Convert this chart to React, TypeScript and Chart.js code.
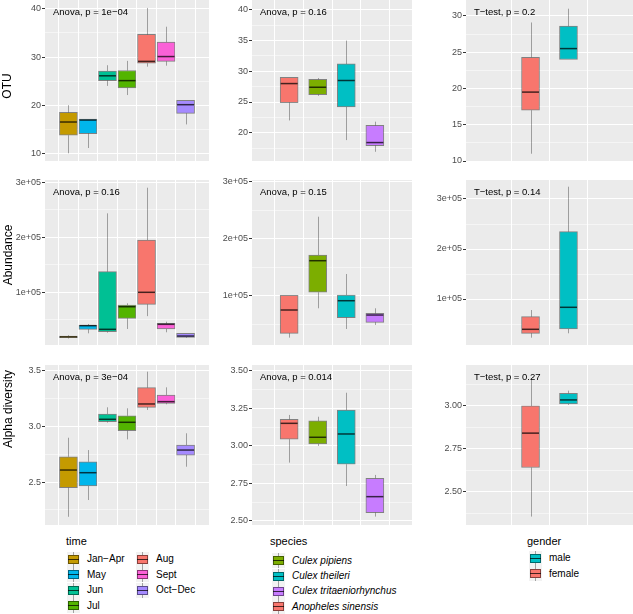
import React, { useEffect, useRef } from "react";
import { Chart, registerables } from "chart.js";
Chart.register(...registerables);

const FONT = "'Liberation Sans', Arial, Helvetica, sans-serif";
Chart.defaults.font.family = FONT;

// ---------- categories & colours ----------
const timeCategories = ["Jan−Apr", "May", "Jun", "Jul", "Aug", "Sept", "Oct−Dec"];
const timeColors = ["#C49A00", "#00B6EB", "#00C094", "#53B400", "#F8766D", "#FB61D7", "#A58AFF"];
const speciesCategories = ["Anopheles sinensis", "Culex pipiens", "Culex theileri", "Culex tritaeniorhynchus"];
const speciesColors = ["#F8766D", "#7CAE00", "#00BFC4", "#C77CFF"];
const genderCategories = ["female", "male"];
const genderColors = ["#F8766D", "#00BFC4"];

// legend order
const speciesLegend = ["Culex pipiens", "Culex theileri", "Culex tritaeniorhynchus", "Anopheles sinensis"];
const speciesLegendColors = ["#7CAE00", "#00BFC4", "#C77CFF", "#F8766D"];
const genderLegend = ["male", "female"];
const genderLegendColors = ["#00BFC4", "#F8766D"];

// ---------- five-number summaries [min, q1, median, q3, max] ----------
const otuByTime = [
  [10, 13.75, 16.5, 18.5, 20],
  [11.1, 14.1, 16.9, 17.1, 17.1],
  [24, 25.1, 26.1, 27.1, 28.3],
  [22.1, 23.6, 25.1, 27.2, 29.2],
  [28, 28.7, 29.1, 34.7, 40.2],
  [28.2, 29.1, 30.1, 33.1, 36.3],
  [16, 18.3, 20.1, 21, 21],
];
const otuBySpecies = [
  [22, 24.9, 28, 29, 29],
  [26, 26.2, 27.4, 28.7, 28.9],
  [18.8, 24.2, 28.5, 31.2, 35],
  [16.9, 17.9, 18.4, 21.2, 21.8],
];
const otuByGender = [
  [11, 17, 19.5, 24.3, 29.1],
  [24, 24, 25.5, 28.6, 31],
];
const abundanceByTime = [
  [16000, 17500, 19000, 20500, 22000],
  [25400, 32700, 39300, 40600, 42400],
  [26600, 28400, 32700, 137500, 243600],
  [33300, 52700, 73800, 77000, 80000],
  [56700, 78100, 100000, 195100, 290200],
  [27300, 33300, 41800, 43600, 46600],
  [17000, 18200, 20500, 25400, 25400],
];
const abundanceBySpecies = [
  [26400, 34000, 74900, 100500, 100500],
  [77900, 106000, 161400, 171400, 238600],
  [41600, 61400, 91200, 101200, 138100],
  [48600, 53300, 66100, 69000, 77900],
];
const abundanceByGender = [
  [22600, 31400, 39400, 64600, 78000],
  [31400, 40000, 83400, 234600, 324600],
];
const alphaByTime = [
  [2.187, 2.449, 2.608, 2.728, 2.899],
  [2.338, 2.464, 2.584, 2.683, 2.788],
  [3.035, 3.044, 3.065, 3.113, 3.173],
  [2.884, 2.962, 3.038, 3.097, 3.164],
  [3.149, 3.173, 3.203, 3.35, 3.494],
  [3.2, 3.209, 3.224, 3.284, 3.353],
  [2.638, 2.743, 2.788, 2.833, 2.939],
];
const alphaBySpecies = [
  [2.889, 3.045, 3.151, 3.178, 3.207],
  [3.0, 3.013, 3.058, 3.167, 3.195],
  [2.733, 2.878, 3.08, 3.24, 3.355],
  [2.529, 2.555, 2.662, 2.785, 2.807],
];
const alphaByGender = [
  [2.355, 2.64, 2.84, 2.998, 3.159],
  [3.004, 3.01, 3.033, 3.072, 3.087],
];

// ---------- axis ticks and limits ----------
const otuTimeTicks = [10, 20, 30, 40];
const otuTimeTickLabels = ["10", "20", "30", "40"];
const otuSpeciesTicks = [20, 25, 30, 35, 40];
const otuSpeciesTickLabels = ["20", "25", "30", "35", "40"];
const otuGenderTicks = [10, 15, 20, 25, 30];
const otuGenderTickLabels = ["10", "15", "20", "25", "30"];
const abundanceTicks = [100000, 200000, 300000];
const abundanceTickLabels = ["1e+05", "2e+05", "3e+05"];
const alphaTimeTicks = [2.5, 3.0, 3.5];
const alphaTimeTickLabels = ["2.5", "3.0", "3.5"];
const alphaSpeciesTicks = [2.5, 2.75, 3.0, 3.25, 3.5];
const alphaSpeciesTickLabels = ["2.50", "2.75", "3.00", "3.25", "3.50"];
const alphaGenderTicks = [2.5, 2.75, 3.0];
const alphaGenderTickLabels = ["2.50", "2.75", "3.00"];

const otuTimeLimits = [8.4, 41.85];
const otuSpeciesLimits = [15.4, 41.6];
const otuGenderLimits = [10.0, 32.2];
const abundanceTimeLimits = [4200, 304200];
const abundanceSpeciesLimits = [13500, 303000];
const abundanceGenderLimits = [8000, 338000];
const alphaTimeLimits = [2.113, 3.554];
const alphaSpeciesLimits = [2.473, 3.54];
const alphaGenderLimits = [2.306, 3.236];

const statLabels = [
  ["Anova, p = 1e−04", "Anova, p = 0.16", "T−test, p = 0.2"],
  ["Anova, p = 0.16", "Anova, p = 0.15", "T−test, p = 0.14"],
  ["Anova, p = 3e−04", "Anova, p = 0.014", "T−test, p = 0.27"],
];

// ---------- layout (pixels) ----------
const COLS = [
  { left: 0, axisWidth: 45, right: 209 },
  { left: 212, axisWidth: 40, right: 412 },
  { left: 424, axisWidth: 42, right: 633 },
];
const ROWS = [
  { top: 0, bottom: 161 },
  { top: 180, bottom: 345 },
  { top: 365, bottom: 525 },
];
const PAD = 8;

type Panel = {
  row: number;
  col: number;
  stats: number[][];
  colors: string[];
  limits: number[];
  ticks: number[];
  tickLabels: string[];
  stat: string;
};

const panels: Panel[] = [
  { row: 0, col: 0, stats: otuByTime, colors: timeColors, limits: otuTimeLimits, ticks: otuTimeTicks, tickLabels: otuTimeTickLabels, stat: statLabels[0][0] },
  { row: 0, col: 1, stats: otuBySpecies, colors: speciesColors, limits: otuSpeciesLimits, ticks: otuSpeciesTicks, tickLabels: otuSpeciesTickLabels, stat: statLabels[0][1] },
  { row: 0, col: 2, stats: otuByGender, colors: genderColors, limits: otuGenderLimits, ticks: otuGenderTicks, tickLabels: otuGenderTickLabels, stat: statLabels[0][2] },
  { row: 1, col: 0, stats: abundanceByTime, colors: timeColors, limits: abundanceTimeLimits, ticks: abundanceTicks, tickLabels: abundanceTickLabels, stat: statLabels[1][0] },
  { row: 1, col: 1, stats: abundanceBySpecies, colors: speciesColors, limits: abundanceSpeciesLimits, ticks: abundanceTicks, tickLabels: abundanceTickLabels, stat: statLabels[1][1] },
  { row: 1, col: 2, stats: abundanceByGender, colors: genderColors, limits: abundanceGenderLimits, ticks: abundanceTicks, tickLabels: abundanceTickLabels, stat: statLabels[1][2] },
  { row: 2, col: 0, stats: alphaByTime, colors: timeColors, limits: alphaTimeLimits, ticks: alphaTimeTicks, tickLabels: alphaTimeTickLabels, stat: statLabels[2][0] },
  { row: 2, col: 1, stats: alphaBySpecies, colors: speciesColors, limits: alphaSpeciesLimits, ticks: alphaSpeciesTicks, tickLabels: alphaSpeciesTickLabels, stat: statLabels[2][1] },
  { row: 2, col: 2, stats: alphaByGender, colors: genderColors, limits: alphaGenderLimits, ticks: alphaGenderTicks, tickLabels: alphaGenderTickLabels, stat: statLabels[2][2] },
];

const WHISKER = "rgba(0,0,0,0.33)";
const BOX_BORDER = "rgba(0,0,0,0.45)";
const MEDIAN = "rgba(0,0,0,0.72)";

const panelBg = {
  id: "panelBg",
  beforeDraw(chart: any) {
    const { ctx, chartArea } = chart;
    ctx.save();
    ctx.fillStyle = "#EBEBEB";
    ctx.fillRect(chartArea.left, chartArea.top, chartArea.right - chartArea.left, chartArea.bottom - chartArea.top);
    ctx.restore();
  },
};

const boxExtras = {
  id: "boxExtras",
  beforeDatasetsDraw(chart: any) {
    const ctx = chart.ctx;
    const y = chart.scales.y;
    chart.data.datasets.forEach((ds: any, di: number) => {
      const meta = chart.getDatasetMeta(di);
      meta.data.forEach((el: any, i: number) => {
        const s = ds.boxStats[i];
        const x = Math.round(el.x) + 0.5;
        ctx.save();
        ctx.strokeStyle = WHISKER;
        ctx.lineWidth = 1;
        ctx.beginPath();
        ctx.moveTo(x, y.getPixelForValue(s[0]));
        ctx.lineTo(x, y.getPixelForValue(s[1]));
        ctx.moveTo(x, y.getPixelForValue(s[3]));
        ctx.lineTo(x, y.getPixelForValue(s[4]));
        ctx.stroke();
        ctx.restore();
      });
    });
  },
  afterDatasetsDraw(chart: any) {
    const ctx = chart.ctx;
    const y = chart.scales.y;
    chart.data.datasets.forEach((ds: any, di: number) => {
      const meta = chart.getDatasetMeta(di);
      meta.data.forEach((el: any, i: number) => {
        const s = ds.boxStats[i];
        const py = y.getPixelForValue(s[2]);
        ctx.save();
        ctx.strokeStyle = MEDIAN;
        ctx.lineWidth = 1.5;
        ctx.beginPath();
        ctx.moveTo(el.x - el.width / 2 + 0.5, py);
        ctx.lineTo(el.x + el.width / 2 - 0.5, py);
        ctx.stroke();
        ctx.restore();
      });
    });
  },
};

const statLabel = {
  id: "statLabel",
  afterDraw(chart: any, _args: any, opts: any) {
    const { ctx, chartArea } = chart;
    ctx.save();
    ctx.font = `9.5px ${FONT}`;
    ctx.fillStyle = "#000000";
    ctx.textBaseline = "alphabetic";
    ctx.textAlign = "left";
    ctx.fillText(opts.text, chartArea.left + 8, chartArea.top + 15);
    ctx.restore();
  },
};

function minorTicks(majors: number[], limits: number[]) {
  const step = majors[1] - majors[0];
  const out: number[] = [];
  for (let i = -1; i < majors.length; i++) {
    const v = (i < 0 ? majors[0] - step : majors[i]) + step / 2;
    if (v > limits[0] && v < limits[1]) out.push(v);
  }
  return out;
}

function BoxPanel({ p }: { p: Panel }) {
  const ref = useRef<HTMLCanvasElement>(null);
  const col = COLS[p.col];
  const row = ROWS[p.row];
  const padTop = Math.min(PAD, row.top);
  const padBottom = PAD;
  const width = col.right - col.left;
  const height = row.bottom - row.top + padTop + padBottom;

  useEffect(() => {
    const n = p.stats.length;
    const majors = p.ticks;
    const minors = minorTicks(majors, p.limits);
    const all = [...majors, ...minors].sort((a, b) => a - b);
    const majorIndex = (v: number) => majors.findIndex((m) => Math.abs(m - v) < 1e-9);

    const chart = new Chart(ref.current as HTMLCanvasElement, {
      type: "bar",
      data: {
        datasets: [
          {
            data: p.stats.map((s, i) => ({ x: i + 1, y: [s[1], s[3]] })),
            boxStats: p.stats,
            backgroundColor: p.colors,
            borderColor: BOX_BORDER,
            borderWidth: 1,
            borderSkipped: false,
            barThickness: 18,
          } as any,
        ],
      },
      options: {
        animation: false,
        responsive: false,
        maintainAspectRatio: false,
        events: [],
        layout: { padding: { top: padTop, bottom: padBottom, left: 0, right: 0 }, autoPadding: false },
        plugins: {
          legend: { display: false },
          tooltip: { enabled: false },
          statLabel: { text: p.stat },
        } as any,
        scales: {
          x: {
            type: "linear",
            min: 0.4,
            max: n + 0.6,
            bounds: "data",
            afterBuildTicks: (s: any) => {
              s.ticks = p.stats.map((_, i) => ({ value: i + 1 }));
            },
            afterFit: (s: any) => {
              s.height = 0;
              s.paddingLeft = 0;
              s.paddingRight = 0;
            },
            ticks: { display: false },
            grid: { color: "#FFFFFF", lineWidth: 1, drawTicks: false },
            border: { display: false },
          } as any,
          y: {
            type: "linear",
            min: p.limits[0],
            max: p.limits[1],
            bounds: "data",
            afterBuildTicks: (s: any) => {
              s.ticks = all.map((v) => ({ value: v }));
            },
            afterFit: (s: any) => {
              s.width = col.axisWidth;
              s.paddingTop = 0;
              s.paddingBottom = 0;
            },
            ticks: {
              autoSkip: false,
              color: "#4D4D4D",
              font: { size: 9, family: FONT },
              padding: 1,
              callback: (v: any) => {
                const k = majorIndex(Number(v));
                return k >= 0 ? p.tickLabels[k] : "";
              },
            },
            grid: {
              color: "#FFFFFF",
              lineWidth: (c: any) => (majorIndex(c.tick.value) >= 0 ? 1 : 0.5),
              tickLength: 3,
              tickWidth: 1,
              tickColor: (c: any) => (majorIndex(c.tick.value) >= 0 ? "#333333" : "rgba(0,0,0,0)"),
            },
            border: { display: false },
          } as any,
        },
      },
      plugins: [panelBg, boxExtras, statLabel],
    });
    return () => chart.destroy();
  }, []);

  return (
    <canvas
      ref={ref}
      width={width}
      height={height}
      style={{ position: "absolute", left: col.left, top: row.top - padTop, width, height }}
    />
  );
}

function Swatch({ color, left, cy }: { color: string; left: number; cy: number }) {
  return (
    <div style={{ position: "absolute", left, top: cy - 7.5, width: 13, height: 15, background: "#F2F2F2" }}>
      <div style={{ position: "absolute", left: 6, top: 0, width: 1, height: 15, background: WHISKER }} />
      <div
        style={{
          position: "absolute",
          left: 1,
          top: 3,
          width: 11,
          height: 9,
          boxSizing: "border-box",
          background: color,
          border: `1px solid ${BOX_BORDER}`,
        }}
      />
      <div style={{ position: "absolute", left: 1, top: 7, width: 11, height: 1, background: MEDIAN }} />
    </div>
  );
}

function LegendItem({ label, color, left, cy, italic }: { label: string; color: string; left: number; cy: number; italic?: boolean }) {
  return (
    <>
      <Swatch color={color} left={left} cy={cy} />
      <div
        style={{
          position: "absolute",
          left: left + 20,
          top: cy - 6,
          height: 12,
          lineHeight: "12px",
          fontSize: 10,
          fontStyle: italic ? "italic" : "normal",
          whiteSpace: "nowrap",
          color: "#000",
        }}
      >
        {label}
      </div>
    </>
  );
}

function LegendTitle({ text, left, cy }: { text: string; left: number; cy: number }) {
  return (
    <div style={{ position: "absolute", left, top: cy - 7, height: 14, lineHeight: "14px", fontSize: 11, color: "#000", whiteSpace: "nowrap" }}>
      {text}
    </div>
  );
}

function YTitle({ text, cx, cy }: { text: string; cx: number; cy: number }) {
  return (
    <div
      style={{
        position: "absolute",
        left: cx,
        top: cy,
        transform: "translate(-50%, -50%) rotate(-90deg)",
        fontSize: 12,
        lineHeight: "14px",
        whiteSpace: "nowrap",
        color: "#000",
      }}
    >
      {text}
    </div>
  );
}

const timeRowsY = [559, 574.5, 590, 605.5];
const speciesRowsY = [560.5, 576, 591, 606.5];
const genderRowsY = [558, 573.5];

export default function App() {
  return (
    <div
      style={{
        position: "fixed",
        left: 0,
        top: 0,
        width: 633,
        height: 614,
        background: "#FFFFFF",
        fontFamily: FONT,
        overflow: "hidden",
      }}
    >
      {panels.map((p, i) => (
        <BoxPanel key={i} p={p} />
      ))}
      <YTitle text="OTU" cx={7} cy={86} />
      <YTitle text="Abundance" cx={8} cy={255} />
      <YTitle text="Alpha diversity" cx={8} cy={409} />

      <LegendTitle text="time" left={66} cy={541} />
      {timeCategories.map((c, i) => (
        <LegendItem
          key={c}
          label={c}
          color={timeColors[i]}
          left={i < 4 ? 67 : 136}
          cy={timeRowsY[i < 4 ? i : i - 4]}
        />
      ))}

      <LegendTitle text="species" left={270} cy={541} />
      {speciesLegend.map((c, i) => (
        <LegendItem key={c} label={c} color={speciesLegendColors[i]} left={272} cy={speciesRowsY[i]} italic />
      ))}

      <LegendTitle text="gender" left={527} cy={541} />
      {genderLegend.map((c, i) => (
        <LegendItem key={c} label={c} color={genderLegendColors[i]} left={529} cy={genderRowsY[i]} />
      ))}
    </div>
  );
}
